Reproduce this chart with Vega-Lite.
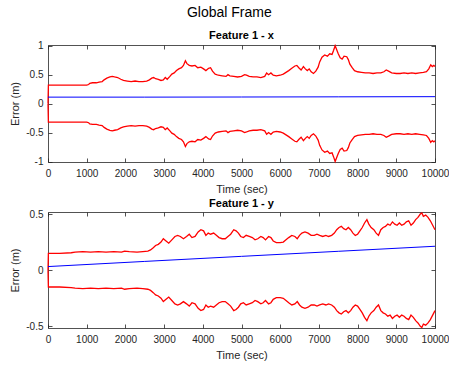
{
  "$schema": "https://vega.github.io/schema/vega-lite/v6.json",
  "padding": {"left": 9, "top": 5, "right": 0, "bottom": 5},
  "config": {
    "font": "Liberation Sans",
    "view": {"stroke": null},
    "axis": {
      "domainColor": "#262626", "tickColor": "#262626", "labelColor": "#262626", "titleColor": "#262626",
      "labelFont": "Liberation Sans", "titleFont": "Liberation Sans", "labelFontSize": 10, "titleFontSize": 11,
      "titleFontWeight": "normal", "grid": false, "tickSize": -4, "domainWidth": 0.8, "tickWidth": 0.8,
      "labelOverlap": false, "labelFlush": false
    },
    "title": {"font": "Liberation Sans"}
  },
  "title": {"text": "Global Frame", "fontSize": 14, "fontWeight": "normal", "color": "#000000", "anchor": "middle", "offset": 10},
  "spacing": 4,
  "datasets": {
    "bx": [
      {"t": 0, "hi": 0, "lo": 0},
      {"t": 10, "hi": 0.32, "lo": -0.32},
      {"t": 500, "hi": 0.32, "lo": -0.32},
      {"t": 1000, "hi": 0.32, "lo": -0.32},
      {"t": 1050, "hi": 0.33, "lo": -0.33},
      {"t": 1080, "hi": 0.35, "lo": -0.35},
      {"t": 1150, "hi": 0.36, "lo": -0.36},
      {"t": 1250, "hi": 0.36, "lo": -0.36},
      {"t": 1320, "hi": 0.37, "lo": -0.37},
      {"t": 1400, "hi": 0.38, "lo": -0.38},
      {"t": 1450, "hi": 0.41, "lo": -0.41},
      {"t": 1520, "hi": 0.44, "lo": -0.44},
      {"t": 1600, "hi": 0.46, "lo": -0.46},
      {"t": 1660, "hi": 0.47, "lo": -0.47},
      {"t": 1720, "hi": 0.46, "lo": -0.46},
      {"t": 1800, "hi": 0.45, "lo": -0.45},
      {"t": 1880, "hi": 0.42, "lo": -0.42},
      {"t": 1950, "hi": 0.40, "lo": -0.40},
      {"t": 2050, "hi": 0.39, "lo": -0.39},
      {"t": 2150, "hi": 0.38, "lo": -0.38},
      {"t": 2250, "hi": 0.39, "lo": -0.39},
      {"t": 2350, "hi": 0.38, "lo": -0.38},
      {"t": 2450, "hi": 0.38, "lo": -0.38},
      {"t": 2550, "hi": 0.39, "lo": -0.39},
      {"t": 2620, "hi": 0.41, "lo": -0.41},
      {"t": 2680, "hi": 0.44, "lo": -0.44},
      {"t": 2730, "hi": 0.45, "lo": -0.45},
      {"t": 2780, "hi": 0.43, "lo": -0.43},
      {"t": 2850, "hi": 0.42, "lo": -0.42},
      {"t": 2920, "hi": 0.40, "lo": -0.40},
      {"t": 2980, "hi": 0.41, "lo": -0.41},
      {"t": 3030, "hi": 0.45, "lo": -0.45},
      {"t": 3080, "hi": 0.42, "lo": -0.42},
      {"t": 3150, "hi": 0.47, "lo": -0.47},
      {"t": 3200, "hi": 0.51, "lo": -0.51},
      {"t": 3260, "hi": 0.53, "lo": -0.53},
      {"t": 3320, "hi": 0.57, "lo": -0.57},
      {"t": 3380, "hi": 0.60, "lo": -0.60},
      {"t": 3450, "hi": 0.62, "lo": -0.62},
      {"t": 3500, "hi": 0.66, "lo": -0.66},
      {"t": 3550, "hi": 0.74, "lo": -0.74},
      {"t": 3590, "hi": 0.69, "lo": -0.69},
      {"t": 3650, "hi": 0.66, "lo": -0.66},
      {"t": 3720, "hi": 0.65, "lo": -0.65},
      {"t": 3800, "hi": 0.66, "lo": -0.66},
      {"t": 3870, "hi": 0.62, "lo": -0.62},
      {"t": 3950, "hi": 0.63, "lo": -0.63},
      {"t": 4020, "hi": 0.60, "lo": -0.60},
      {"t": 4080, "hi": 0.57, "lo": -0.57},
      {"t": 4150, "hi": 0.61, "lo": -0.61},
      {"t": 4200, "hi": 0.62, "lo": -0.62},
      {"t": 4250, "hi": 0.56, "lo": -0.56},
      {"t": 4320, "hi": 0.51, "lo": -0.51},
      {"t": 4400, "hi": 0.49, "lo": -0.49},
      {"t": 4500, "hi": 0.48, "lo": -0.48},
      {"t": 4600, "hi": 0.47, "lo": -0.47},
      {"t": 4650, "hi": 0.50, "lo": -0.50},
      {"t": 4700, "hi": 0.48, "lo": -0.48},
      {"t": 4800, "hi": 0.47, "lo": -0.47},
      {"t": 4900, "hi": 0.46, "lo": -0.46},
      {"t": 5000, "hi": 0.47, "lo": -0.47},
      {"t": 5080, "hi": 0.50, "lo": -0.50},
      {"t": 5130, "hi": 0.49, "lo": -0.49},
      {"t": 5200, "hi": 0.47, "lo": -0.47},
      {"t": 5300, "hi": 0.46, "lo": -0.46},
      {"t": 5400, "hi": 0.46, "lo": -0.46},
      {"t": 5500, "hi": 0.45, "lo": -0.45},
      {"t": 5600, "hi": 0.47, "lo": -0.47},
      {"t": 5650, "hi": 0.53, "lo": -0.53},
      {"t": 5700, "hi": 0.50, "lo": -0.50},
      {"t": 5760, "hi": 0.53, "lo": -0.53},
      {"t": 5820, "hi": 0.49, "lo": -0.49},
      {"t": 5900, "hi": 0.48, "lo": -0.48},
      {"t": 6000, "hi": 0.49, "lo": -0.49},
      {"t": 6080, "hi": 0.51, "lo": -0.51},
      {"t": 6150, "hi": 0.54, "lo": -0.54},
      {"t": 6220, "hi": 0.57, "lo": -0.57},
      {"t": 6300, "hi": 0.61, "lo": -0.61},
      {"t": 6380, "hi": 0.65, "lo": -0.65},
      {"t": 6430, "hi": 0.66, "lo": -0.66},
      {"t": 6480, "hi": 0.62, "lo": -0.62},
      {"t": 6540, "hi": 0.58, "lo": -0.58},
      {"t": 6600, "hi": 0.64, "lo": -0.64},
      {"t": 6650, "hi": 0.60, "lo": -0.60},
      {"t": 6700, "hi": 0.57, "lo": -0.57},
      {"t": 6750, "hi": 0.60, "lo": -0.60},
      {"t": 6800, "hi": 0.55, "lo": -0.55},
      {"t": 6860, "hi": 0.52, "lo": -0.52},
      {"t": 6920, "hi": 0.56, "lo": -0.56},
      {"t": 6980, "hi": 0.63, "lo": -0.63},
      {"t": 7020, "hi": 0.72, "lo": -0.72},
      {"t": 7080, "hi": 0.80, "lo": -0.80},
      {"t": 7150, "hi": 0.84, "lo": -0.84},
      {"t": 7220, "hi": 0.82, "lo": -0.82},
      {"t": 7280, "hi": 0.86, "lo": -0.86},
      {"t": 7340, "hi": 0.85, "lo": -0.85},
      {"t": 7380, "hi": 0.92, "lo": -0.92},
      {"t": 7420, "hi": 1.00, "lo": -1.00},
      {"t": 7460, "hi": 0.93, "lo": -0.93},
      {"t": 7500, "hi": 0.86, "lo": -0.86},
      {"t": 7550, "hi": 0.79, "lo": -0.79},
      {"t": 7600, "hi": 0.77, "lo": -0.77},
      {"t": 7650, "hi": 0.82, "lo": -0.82},
      {"t": 7720, "hi": 0.81, "lo": -0.81},
      {"t": 7760, "hi": 0.76, "lo": -0.76},
      {"t": 7800, "hi": 0.68, "lo": -0.68},
      {"t": 7860, "hi": 0.62, "lo": -0.62},
      {"t": 7920, "hi": 0.57, "lo": -0.57},
      {"t": 8000, "hi": 0.55, "lo": -0.55},
      {"t": 8100, "hi": 0.54, "lo": -0.54},
      {"t": 8200, "hi": 0.53, "lo": -0.53},
      {"t": 8300, "hi": 0.53, "lo": -0.53},
      {"t": 8400, "hi": 0.52, "lo": -0.52},
      {"t": 8500, "hi": 0.53, "lo": -0.53},
      {"t": 8600, "hi": 0.53, "lo": -0.53},
      {"t": 8680, "hi": 0.55, "lo": -0.55},
      {"t": 8740, "hi": 0.58, "lo": -0.58},
      {"t": 8800, "hi": 0.56, "lo": -0.56},
      {"t": 8880, "hi": 0.53, "lo": -0.53},
      {"t": 9000, "hi": 0.52, "lo": -0.52},
      {"t": 9100, "hi": 0.52, "lo": -0.52},
      {"t": 9200, "hi": 0.53, "lo": -0.53},
      {"t": 9300, "hi": 0.52, "lo": -0.52},
      {"t": 9400, "hi": 0.53, "lo": -0.53},
      {"t": 9500, "hi": 0.52, "lo": -0.52},
      {"t": 9600, "hi": 0.53, "lo": -0.53},
      {"t": 9700, "hi": 0.54, "lo": -0.54},
      {"t": 9780, "hi": 0.55, "lo": -0.55},
      {"t": 9840, "hi": 0.60, "lo": -0.60},
      {"t": 9890, "hi": 0.67, "lo": -0.67},
      {"t": 9930, "hi": 0.64, "lo": -0.64},
      {"t": 9970, "hi": 0.66, "lo": -0.66},
      {"t": 10000, "hi": 0.64, "lo": -0.64}
    ],
    "ex": [
      {"t": 0, "e": 0.112},
      {"t": 2500, "e": 0.112},
      {"t": 5000, "e": 0.114},
      {"t": 7500, "e": 0.117},
      {"t": 10000, "e": 0.12}
    ],
    "by": [
      {"t": 0, "hi": 0, "lo": 0},
      {"t": 10, "hi": 0.15, "lo": -0.15},
      {"t": 300, "hi": 0.15, "lo": -0.15},
      {"t": 600, "hi": 0.155, "lo": -0.155},
      {"t": 700, "hi": 0.16, "lo": -0.16},
      {"t": 900, "hi": 0.165, "lo": -0.165},
      {"t": 1100, "hi": 0.16, "lo": -0.16},
      {"t": 1300, "hi": 0.165, "lo": -0.165},
      {"t": 1500, "hi": 0.16, "lo": -0.16},
      {"t": 1700, "hi": 0.165, "lo": -0.165},
      {"t": 1900, "hi": 0.16, "lo": -0.16},
      {"t": 1980, "hi": 0.17, "lo": -0.17},
      {"t": 2100, "hi": 0.165, "lo": -0.165},
      {"t": 2300, "hi": 0.16, "lo": -0.16},
      {"t": 2450, "hi": 0.165, "lo": -0.165},
      {"t": 2580, "hi": 0.17, "lo": -0.17},
      {"t": 2650, "hi": 0.18, "lo": -0.18},
      {"t": 2720, "hi": 0.20, "lo": -0.20},
      {"t": 2780, "hi": 0.22, "lo": -0.22},
      {"t": 2850, "hi": 0.23, "lo": -0.23},
      {"t": 2920, "hi": 0.25, "lo": -0.25},
      {"t": 2980, "hi": 0.28, "lo": -0.28},
      {"t": 3050, "hi": 0.26, "lo": -0.26},
      {"t": 3120, "hi": 0.24, "lo": -0.24},
      {"t": 3200, "hi": 0.27, "lo": -0.27},
      {"t": 3280, "hi": 0.30, "lo": -0.30},
      {"t": 3350, "hi": 0.31, "lo": -0.31},
      {"t": 3420, "hi": 0.30, "lo": -0.30},
      {"t": 3500, "hi": 0.28, "lo": -0.28},
      {"t": 3580, "hi": 0.30, "lo": -0.30},
      {"t": 3650, "hi": 0.32, "lo": -0.32},
      {"t": 3720, "hi": 0.29, "lo": -0.29},
      {"t": 3800, "hi": 0.30, "lo": -0.30},
      {"t": 3880, "hi": 0.34, "lo": -0.34},
      {"t": 3950, "hi": 0.36, "lo": -0.36},
      {"t": 4020, "hi": 0.35, "lo": -0.35},
      {"t": 4080, "hi": 0.31, "lo": -0.31},
      {"t": 4140, "hi": 0.33, "lo": -0.33},
      {"t": 4200, "hi": 0.32, "lo": -0.32},
      {"t": 4280, "hi": 0.33, "lo": -0.33},
      {"t": 4350, "hi": 0.31, "lo": -0.31},
      {"t": 4420, "hi": 0.29, "lo": -0.29},
      {"t": 4500, "hi": 0.28, "lo": -0.28},
      {"t": 4580, "hi": 0.28, "lo": -0.28},
      {"t": 4650, "hi": 0.30, "lo": -0.30},
      {"t": 4720, "hi": 0.32, "lo": -0.32},
      {"t": 4800, "hi": 0.36, "lo": -0.36},
      {"t": 4860, "hi": 0.35, "lo": -0.35},
      {"t": 4920, "hi": 0.33, "lo": -0.33},
      {"t": 4980, "hi": 0.30, "lo": -0.30},
      {"t": 5050, "hi": 0.29, "lo": -0.29},
      {"t": 5120, "hi": 0.31, "lo": -0.31},
      {"t": 5200, "hi": 0.30, "lo": -0.30},
      {"t": 5280, "hi": 0.29, "lo": -0.29},
      {"t": 5350, "hi": 0.27, "lo": -0.27},
      {"t": 5420, "hi": 0.28, "lo": -0.28},
      {"t": 5500, "hi": 0.30, "lo": -0.30},
      {"t": 5560, "hi": 0.29, "lo": -0.29},
      {"t": 5620, "hi": 0.27, "lo": -0.27},
      {"t": 5700, "hi": 0.30, "lo": -0.30},
      {"t": 5760, "hi": 0.29, "lo": -0.29},
      {"t": 5820, "hi": 0.26, "lo": -0.26},
      {"t": 5900, "hi": 0.245, "lo": -0.245},
      {"t": 6000, "hi": 0.245, "lo": -0.245},
      {"t": 6080, "hi": 0.25, "lo": -0.25},
      {"t": 6150, "hi": 0.27, "lo": -0.27},
      {"t": 6220, "hi": 0.29, "lo": -0.29},
      {"t": 6300, "hi": 0.31, "lo": -0.31},
      {"t": 6380, "hi": 0.30, "lo": -0.30},
      {"t": 6440, "hi": 0.28, "lo": -0.28},
      {"t": 6500, "hi": 0.31, "lo": -0.31},
      {"t": 6560, "hi": 0.33, "lo": -0.33},
      {"t": 6640, "hi": 0.34, "lo": -0.34},
      {"t": 6720, "hi": 0.33, "lo": -0.33},
      {"t": 6800, "hi": 0.31, "lo": -0.31},
      {"t": 6880, "hi": 0.31, "lo": -0.31},
      {"t": 6950, "hi": 0.32, "lo": -0.32},
      {"t": 7020, "hi": 0.31, "lo": -0.31},
      {"t": 7100, "hi": 0.30, "lo": -0.30},
      {"t": 7180, "hi": 0.31, "lo": -0.31},
      {"t": 7250, "hi": 0.30, "lo": -0.30},
      {"t": 7330, "hi": 0.31, "lo": -0.31},
      {"t": 7400, "hi": 0.33, "lo": -0.33},
      {"t": 7460, "hi": 0.36, "lo": -0.36},
      {"t": 7520, "hi": 0.38, "lo": -0.38},
      {"t": 7580, "hi": 0.39, "lo": -0.39},
      {"t": 7640, "hi": 0.37, "lo": -0.37},
      {"t": 7700, "hi": 0.36, "lo": -0.36},
      {"t": 7760, "hi": 0.38, "lo": -0.38},
      {"t": 7820, "hi": 0.36, "lo": -0.36},
      {"t": 7880, "hi": 0.33, "lo": -0.33},
      {"t": 7940, "hi": 0.31, "lo": -0.31},
      {"t": 8000, "hi": 0.32, "lo": -0.32},
      {"t": 8060, "hi": 0.35, "lo": -0.35},
      {"t": 8120, "hi": 0.38, "lo": -0.38},
      {"t": 8180, "hi": 0.42, "lo": -0.42},
      {"t": 8240, "hi": 0.45, "lo": -0.45},
      {"t": 8290, "hi": 0.41, "lo": -0.41},
      {"t": 8350, "hi": 0.38, "lo": -0.38},
      {"t": 8420, "hi": 0.36, "lo": -0.36},
      {"t": 8480, "hi": 0.33, "lo": -0.33},
      {"t": 8540, "hi": 0.31, "lo": -0.31},
      {"t": 8600, "hi": 0.36, "lo": -0.36},
      {"t": 8660, "hi": 0.38, "lo": -0.38},
      {"t": 8720, "hi": 0.39, "lo": -0.39},
      {"t": 8780, "hi": 0.41, "lo": -0.41},
      {"t": 8840, "hi": 0.40, "lo": -0.40},
      {"t": 8900, "hi": 0.43, "lo": -0.43},
      {"t": 8960, "hi": 0.41, "lo": -0.41},
      {"t": 9020, "hi": 0.40, "lo": -0.40},
      {"t": 9080, "hi": 0.42, "lo": -0.42},
      {"t": 9140, "hi": 0.40, "lo": -0.40},
      {"t": 9200, "hi": 0.41, "lo": -0.41},
      {"t": 9260, "hi": 0.43, "lo": -0.43},
      {"t": 9320, "hi": 0.44, "lo": -0.44},
      {"t": 9380, "hi": 0.40, "lo": -0.40},
      {"t": 9440, "hi": 0.42, "lo": -0.42},
      {"t": 9500, "hi": 0.45, "lo": -0.45},
      {"t": 9560, "hi": 0.47, "lo": -0.47},
      {"t": 9620, "hi": 0.50, "lo": -0.50},
      {"t": 9660, "hi": 0.51, "lo": -0.51},
      {"t": 9700, "hi": 0.48, "lo": -0.48},
      {"t": 9760, "hi": 0.49, "lo": -0.49},
      {"t": 9820, "hi": 0.47, "lo": -0.47},
      {"t": 9880, "hi": 0.44, "lo": -0.44},
      {"t": 9940, "hi": 0.40, "lo": -0.40},
      {"t": 10000, "hi": 0.36, "lo": -0.36}
    ],
    "ey": [
      {"t": 0, "e": 0.032},
      {"t": 2500, "e": 0.078},
      {"t": 5000, "e": 0.123},
      {"t": 7500, "e": 0.168},
      {"t": 10000, "e": 0.213}
    ]
  },
  "vconcat": [
    {
      "width": 387, "height": 117,
      "title": {"text": "Feature 1 - x", "fontSize": 11, "fontWeight": "bold", "color": "#000000", "offset": 0},
      "resolve": {"axis": {"x": "independent", "y": "independent"}},
      "layer": [
        {
          "data": {"name": "bx"},
          "mark": {"type": "line", "color": "#FF0000", "strokeWidth": 1.3},
          "encoding": {
            "x": {"field": "t", "type": "quantitative", "scale": {"domain": [0, 10000], "nice": false, "zero": false},
                  "axis": {"orient": "bottom", "values": [0,1000,2000,3000,4000,5000,6000,7000,8000,9000,10000], "labelExpr": "datum.value", "title": "Time (sec)", "labelPadding": 10, "titlePadding": 5}},
            "y": {"field": "hi", "type": "quantitative", "scale": {"domain": [-1.008, 1.012], "nice": false, "zero": false},
                  "axis": {"orient": "left", "values": [-1, -0.5, 0, 0.5, 1], "labelExpr": "datum.value", "title": "Error (m)", "labelPadding": 9, "titlePadding": 5}}
          }
        },
        {
          "data": {"name": "bx"},
          "mark": {"type": "line", "color": "#FF0000", "strokeWidth": 1.3},
          "encoding": {
            "x": {"field": "t", "type": "quantitative", "scale": {"domain": [0, 10000], "nice": false, "zero": false},
                  "axis": {"orient": "top", "values": [0,1000,2000,3000,4000,5000,6000,7000,8000,9000,10000], "labels": false, "title": null}},
            "y": {"field": "lo", "type": "quantitative", "scale": {"domain": [-1.008, 1.012], "nice": false, "zero": false},
                  "axis": {"orient": "right", "values": [-1, -0.5, 0, 0.5, 1], "labels": false, "title": null}}
          }
        },
        {
          "data": {"name": "ex"},
          "mark": {"type": "line", "color": "#0000FF", "strokeWidth": 1},
          "encoding": {
            "x": {"field": "t", "type": "quantitative", "scale": {"domain": [0, 10000], "nice": false, "zero": false}, "axis": null},
            "y": {"field": "e", "type": "quantitative", "scale": {"domain": [-1.008, 1.012], "nice": false, "zero": false}, "axis": null}
          }
        }
      ]
    },
    {
      "width": 387, "height": 116,
      "title": {"text": "Feature 1 - y", "fontSize": 11, "fontWeight": "bold", "color": "#000000", "offset": 0},
      "resolve": {"axis": {"x": "independent", "y": "independent"}},
      "layer": [
        {
          "data": {"name": "by"},
          "mark": {"type": "line", "color": "#FF0000", "strokeWidth": 1.3},
          "encoding": {
            "x": {"field": "t", "type": "quantitative", "scale": {"domain": [0, 10000], "nice": false, "zero": false},
                  "axis": {"orient": "bottom", "values": [0,1000,2000,3000,4000,5000,6000,7000,8000,9000,10000], "labelExpr": "datum.value", "title": "Time (sec)", "labelPadding": 10, "titlePadding": 5}},
            "y": {"field": "hi", "type": "quantitative", "scale": {"domain": [-0.515, 0.518], "nice": false, "zero": false},
                  "axis": {"orient": "left", "values": [-0.5, 0, 0.5], "labelExpr": "datum.value", "title": "Error (m)", "labelPadding": 9, "titlePadding": 5}}
          }
        },
        {
          "data": {"name": "by"},
          "mark": {"type": "line", "color": "#FF0000", "strokeWidth": 1.3},
          "encoding": {
            "x": {"field": "t", "type": "quantitative", "scale": {"domain": [0, 10000], "nice": false, "zero": false},
                  "axis": {"orient": "top", "values": [0,1000,2000,3000,4000,5000,6000,7000,8000,9000,10000], "labels": false, "title": null}},
            "y": {"field": "lo", "type": "quantitative", "scale": {"domain": [-0.515, 0.518], "nice": false, "zero": false},
                  "axis": {"orient": "right", "values": [-0.5, 0, 0.5], "labels": false, "title": null}}
          }
        },
        {
          "data": {"name": "ey"},
          "mark": {"type": "line", "color": "#0000FF", "strokeWidth": 1},
          "encoding": {
            "x": {"field": "t", "type": "quantitative", "scale": {"domain": [0, 10000], "nice": false, "zero": false}, "axis": null},
            "y": {"field": "e", "type": "quantitative", "scale": {"domain": [-0.515, 0.518], "nice": false, "zero": false}, "axis": null}
          }
        }
      ]
    }
  ]
}
